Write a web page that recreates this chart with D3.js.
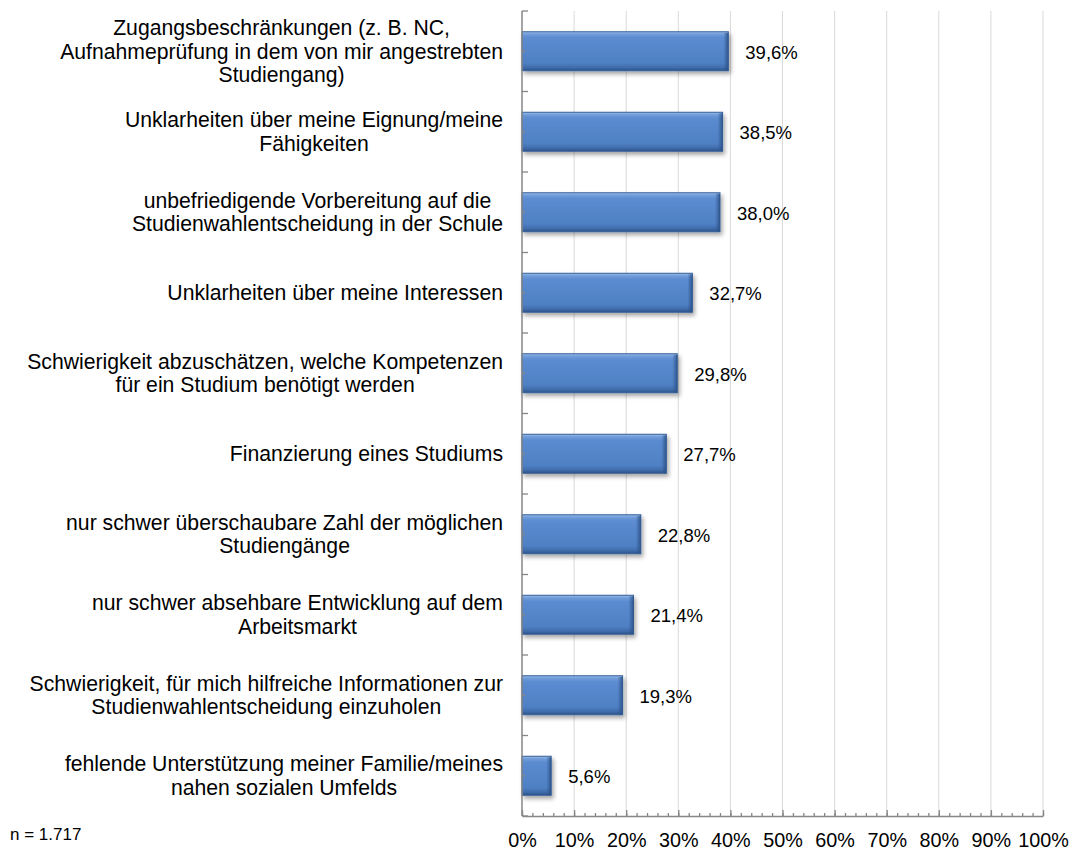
<!DOCTYPE html>
<html>
<head>
<meta charset="utf-8">
<script src="https://cdn.jsdelivr.net/npm/d3@7"></script>
<style>
  html, body { margin: 0; padding: 0; background: #ffffff; }
  svg { display: block; }
  text { font-family: "Liberation Sans", Arial, sans-serif; fill: #000; }
</style>
</head>
<body>
<script>
// ---- data ----
const categories = [
  ["Zugangsbeschränkungen (z. B. NC,", "Aufnahmeprüfung in dem von mir angestrebten", "Studiengang)"],
  ["Unklarheiten über meine Eignung/meine", "Fähigkeiten"],
  ["unbefriedigende Vorbereitung auf die", "Studienwahlentscheidung in der Schule"],
  ["Unklarheiten über meine Interessen"],
  ["Schwierigkeit abzuschätzen, welche Kompetenzen", "für ein Studium benötigt werden"],
  ["Finanzierung eines Studiums"],
  ["nur schwer überschaubare Zahl der möglichen", "Studiengänge"],
  ["nur schwer absehbare Entwicklung auf dem", "Arbeitsmarkt"],
  ["Schwierigkeit, für mich hilfreiche Informationen zur", "Studienwahlentscheidung einzuholen"],
  ["fehlende Unterstützung meiner Familie/meines", "nahen sozialen Umfelds"]
];
const values = [39.6, 38.5, 38.0, 32.7, 29.8, 27.7, 22.8, 21.4, 19.3, 5.6];
const majorTicks = [0, 10, 20, 30, 40, 50, 60, 70, 80, 90, 100];
const tickLabels = ["0%", "10%", "20%", "30%", "40%", "50%", "60%", "70%", "80%", "90%", "100%"];
const noteText = "n = 1.717";

// ---- layout ----
const W = 1073, H = 850;
const pLeft = 522, pRight = 1043, pTop = 11, pBottom = 816;

const de = d3.formatLocale({decimal: ",", thousands: ".", grouping: [3], currency: ["", "€"]});
const fmt = v => de.format(".1f")(v) + "%";

const svg = d3.select("body").append("svg").attr("width", W).attr("height", H);

const defs = svg.append("defs");
const grad = defs.append("linearGradient").attr("id", "barGrad")
  .attr("x1", 0).attr("y1", 0).attr("x2", 0).attr("y2", 1);
[[0, "#9bbde8"], [0.07, "#6f9bd9"], [0.16, "#5b8bd0"], [0.8, "#4f80c4"], [0.92, "#3f6cab"], [1, "#2c5288"]]
  .forEach(([o, c]) => grad.append("stop").attr("offset", o).attr("stop-color", c));
const gradR = defs.append("linearGradient").attr("id", "barGradR")
  .attr("x1", 0).attr("y1", 0).attr("x2", 1).attr("y2", 0);
gradR.append("stop").attr("offset", 0).attr("stop-color", "#2c5288").attr("stop-opacity", 0);
gradR.append("stop").attr("offset", 1).attr("stop-color", "#2c5288").attr("stop-opacity", 0.9);
const filt = defs.append("filter").attr("id", "shadow")
  .attr("x", "-10%").attr("y", "-20%").attr("width", "130%").attr("height", "160%");
filt.append("feDropShadow").attr("dx", 2).attr("dy", 3).attr("stdDeviation", 2)
  .attr("flood-color", "#000").attr("flood-opacity", 0.35);

const x = d3.scaleLinear().domain([0, 100]).range([pLeft, pRight]);
const idx = d3.range(categories.length);
const y = d3.scaleBand().domain(idx).range([pTop, pBottom])
  .paddingInner(0.516).paddingOuter(0.258);
const step = y.step();

// gridlines
svg.append("g").selectAll("line").data(majorTicks.filter(d => d > 0)).join("line")
  .attr("x1", d => x(d)).attr("x2", d => x(d))
  .attr("y1", pTop).attr("y2", pBottom)
  .attr("stroke", "#d9d9d9").attr("stroke-width", 1);

// bars
const bars = svg.append("g");
bars.selectAll("rect.bar").data(idx).join("rect").attr("class", "bar")
  .attr("x", x(0)).attr("y", i => y(i))
  .attr("width", i => x(values[i]) - x(0)).attr("height", y.bandwidth())
  .attr("fill", "url(#barGrad)")
  .attr("stroke", "#34609a").attr("stroke-width", 1)
  .attr("filter", "url(#shadow)");
bars.selectAll("rect.bevel").data(idx).join("rect").attr("class", "bevel")
  .attr("x", i => x(values[i]) - 5).attr("y", i => y(i) + 1)
  .attr("width", 5).attr("height", y.bandwidth() - 1)
  .attr("fill", "url(#barGradR)");

// value labels
svg.append("g").selectAll("text").data(idx).join("text")
  .attr("x", i => x(values[i]) + 17)
  .attr("y", i => y(i) + y.bandwidth() / 2 + 1)
  .attr("dy", "0.35em")
  .style("font-size", "18.5px")
  .text(i => fmt(values[i]));

// left axis
const axisColor = "#868686";
const gL = svg.append("g");
gL.append("line").attr("x1", pLeft).attr("x2", pLeft).attr("y1", pTop).attr("y2", pBottom)
  .attr("stroke", axisColor).attr("stroke-width", 1.5);
gL.selectAll("line.maj").data(d3.range(categories.length + 1)).join("line").attr("class", "maj")
  .attr("x1", pLeft).attr("x2", pLeft + 6)
  .attr("y1", i => pTop + i * step).attr("y2", i => pTop + i * step)
  .attr("stroke", axisColor).attr("stroke-width", 1.3);
gL.selectAll("line.min").data(idx).join("line").attr("class", "min")
  .attr("x1", pLeft).attr("x2", pLeft + 3)
  .attr("y1", i => y(i) + y.bandwidth() / 2).attr("y2", i => y(i) + y.bandwidth() / 2)
  .attr("stroke", axisColor).attr("stroke-width", 1.3);

// bottom axis: minor ticks
const gMinor = svg.append("g").attr("transform", `translate(0,${pBottom})`)
  .call(d3.axisBottom(x).tickValues(d3.range(0, 101, 2)).tickSize(-3).tickFormat(""));
gMinor.select(".domain").remove();
gMinor.selectAll(".tick line").attr("stroke", axisColor).attr("stroke-width", 1.3);

const gB = svg.append("g").attr("transform", `translate(0,${pBottom})`)
  .call(d3.axisBottom(x).tickValues(majorTicks).tickSize(-6).tickSizeOuter(0).tickPadding(17)
    .tickFormat((d, i) => tickLabels[i]));
gB.select(".domain").attr("stroke", axisColor).attr("stroke-width", 1.5);
gB.selectAll(".tick line").attr("stroke", axisColor).attr("stroke-width", 1.3);
gB.selectAll(".tick text").style("font-size", "19.8px")
  .style("font-family", '"Liberation Sans", Arial, sans-serif').attr("fill", "#000");

// category labels: block right-aligned, lines centered within block
const labelRight = 503, lineH = 23.6;
const gLab = svg.append("g").style("font-size", "21.2px");
idx.forEach(i => {
  const lines = categories[i];
  const cy = pTop + (i + 0.5) * step;
  const g = gLab.append("g");
  const texts = g.selectAll("text").data(lines).join("text")
    .attr("text-anchor", "middle")
    .attr("y", (d, k) => cy + (k - (lines.length - 1) / 2) * lineH)
    .attr("dy", "0.35em")
    .text(d => d);
  let maxW = 0;
  texts.each(function () { maxW = Math.max(maxW, this.getComputedTextLength()); });
  texts.attr("x", labelRight - maxW / 2);
});

// note
svg.append("text").attr("x", 10).attr("y", 840).style("font-size", "17px").text(noteText);
</script>
</body>
</html>
